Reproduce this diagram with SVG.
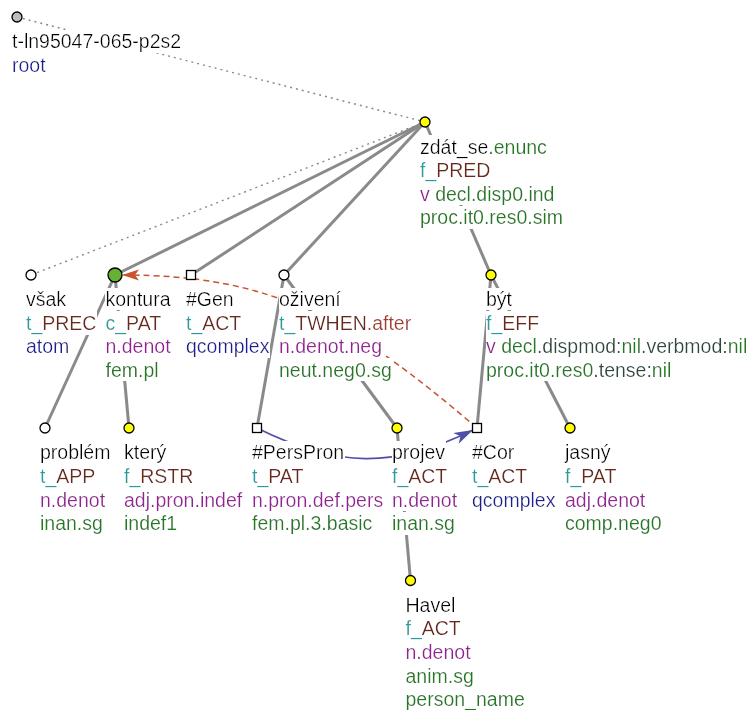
<svg xmlns="http://www.w3.org/2000/svg" width="751" height="710" viewBox="0 0 751 710">
  <defs>
    <!-- white backdrop sized to each text line's box -->
    <filter id="bg" x="0" y="0" width="1" height="1">
      <feFlood flood-color="#ffffff" result="fill"/>
      <feMerge>
        <feMergeNode in="fill"/>
        <feMergeNode in="SourceGraphic"/>
      </feMerge>
    </filter>
    <marker id="ah-coref" markerUnits="userSpaceOnUse" viewBox="-19 -7 20 14" markerWidth="20" markerHeight="14" refX="0" refY="0" orient="auto">
      <path d="M0,0 L-17,-5.5 L-13,0 L-17,5.5 Z" fill="#c8532e"/>
    </marker>
    <marker id="ah-compl" markerUnits="userSpaceOnUse" viewBox="-21 -7 22 14" markerWidth="22" markerHeight="14" refX="0" refY="0" orient="auto">
      <path d="M0,0 L-19,-6 L-14,0 L-19,6 Z" fill="#4f4fa8"/>
    </marker>
    <style>
      text { font-family: "Liberation Sans", Arial, sans-serif; font-size: 19.5px; fill: #000; filter: url(#bg); }
      .edge { stroke: #8a8a8a; stroke-width: 3; fill: none; }
      .dot { stroke: #8a8a8a; stroke-width: 1.4; stroke-dasharray: 2 4; fill: none; }
      .coref { stroke: #c8532e; stroke-width: 1.5; stroke-dasharray: 6 4; fill: none; }
      .compl { stroke: #4f4fa8; stroke-width: 1.6; fill: none; }
      .nd { stroke: #000; stroke-width: 1.3; }
      .y { fill: #ffff00; }
      .w { fill: #ffffff; }
      .pre { fill: #22a0a0; }
      .fn { fill: #702818; }
      .sub { fill: #a8382a; }
      .nt { fill: #1a1a9a; }
      .sem { fill: #9a1a9a; }
      .gr { fill: #1d7d1d; }
      .gn { fill: #2a4a3a; }
    </style>
  </defs>

  <!-- tree edges -->
  <g id="edges">
    <line class="dot" x1="17" y1="17" x2="425" y2="122"/>
    <line class="dot" x1="425" y1="122" x2="31" y2="275"/>
    <line class="edge" x1="425" y1="122" x2="115" y2="275"/>
    <line class="edge" x1="425" y1="122" x2="191" y2="275"/>
    <line class="edge" x1="425" y1="122" x2="284" y2="275"/>
    <line class="edge" x1="425" y1="122" x2="491" y2="275"/>
    <line class="edge" x1="115" y1="275" x2="45" y2="428"/>
    <line class="edge" x1="115" y1="275" x2="129" y2="428"/>
    <line class="edge" x1="284" y1="275" x2="257" y2="428"/>
    <line class="edge" x1="284" y1="275" x2="397" y2="428"/>
    <line class="edge" x1="491" y1="275" x2="477" y2="428"/>
    <line class="edge" x1="491" y1="275" x2="570" y2="428"/>
    <line class="edge" x1="397" y1="428" x2="410.5" y2="580.5"/>
  </g>

  <!-- coreference arrows -->
  <g id="coref">
    <path class="coref" d="M477,428 C347,317 272,275 122,275" marker-end="url(#ah-coref)"/>
    <path class="compl" d="M257,428 C337,468 394,469 473,430" marker-end="url(#ah-compl)"/>
  </g>

  <g id="n-root">
    <circle cx="17" cy="17" r="5" fill="#bdbdbd" class="nd"/>
    <text x="12" y="48.3">t-ln95047-065-p2s2</text>
    <text x="12" y="71.9" class="nt">root</text>
  </g>

  <g id="n-zdat_se">
    <text x="420" y="153.6">zdát_se<tspan class="gr">.enunc</tspan></text>
    <text x="420" y="177.2"><tspan class="pre">f_</tspan><tspan class="fn">PRED</tspan></text>
    <text x="420" y="200.8"><tspan class="sem">v</tspan><tspan class="gr"> decl.disp0.ind</tspan></text>
    <text x="420" y="224.4" class="gr">proc.it0.res0.sim</text>
    <circle cx="425" cy="122" r="5" class="nd y"/>
  </g>

  <g id="n-vsak">
    <text x="26" y="306">však</text>
    <text x="26" y="329.6"><tspan class="pre">t_</tspan><tspan class="fn">PREC</tspan></text>
    <text x="26" y="353.2" class="nt">atom</text>
    <circle cx="31" cy="275" r="5" class="nd w"/>
  </g>

  <g id="n-kontura">
    <text x="105.5" y="306">kontura</text>
    <text x="105.5" y="329.6"><tspan class="pre">c_</tspan><tspan class="fn">PAT</tspan></text>
    <text x="105.5" y="353.2" class="sem">n.denot</text>
    <text x="105.5" y="376.8" class="gr">fem.pl</text>
    <circle cx="115" cy="275" r="7" fill="#66b032" class="nd"/>
  </g>

  <g id="n-gen">
    <text x="186" y="306">#Gen</text>
    <text x="186" y="329.6"><tspan class="pre">t_</tspan><tspan class="fn">ACT</tspan></text>
    <text x="186" y="353.2" class="nt">qcomplex</text>
    <rect x="186.5" y="270.5" width="9" height="9" class="nd w"/>
  </g>

  <g id="n-oziveni">
    <text x="279" y="306">oživení</text>
    <text x="279" y="329.6"><tspan class="pre">t_</tspan><tspan class="fn">TWHEN</tspan><tspan class="sub">.after</tspan></text>
    <text x="279" y="353.2" class="sem">n.denot.neg</text>
    <text x="279" y="376.8" class="gr">neut.neg0.sg</text>
    <circle cx="284" cy="275" r="5" class="nd w"/>
  </g>

  <g id="n-byt">
    <text x="486" y="306">být</text>
    <text x="486" y="329.6"><tspan class="pre">f_</tspan><tspan class="fn">EFF</tspan></text>
    <text x="486" y="353.2"><tspan class="sem">v</tspan> <tspan class="gr">decl</tspan><tspan class="gn">.dispmod:</tspan><tspan class="gr">nil</tspan><tspan class="gn">.verbmod:</tspan><tspan class="gr">nil</tspan></text>
    <text x="486" y="376.8"><tspan class="gr">proc.it0.res0</tspan><tspan class="gn">.tense:</tspan><tspan class="gr">nil</tspan></text>
    <circle cx="491" cy="275" r="5" class="nd y"/>
  </g>

  <g id="n-problem">
    <text x="40" y="459.3">problém</text>
    <text x="40" y="482.9"><tspan class="pre">t_</tspan><tspan class="fn">APP</tspan></text>
    <text x="40" y="506.5" class="sem">n.denot</text>
    <text x="40" y="530.1" class="gr">inan.sg</text>
    <circle cx="45" cy="428" r="5" class="nd w"/>
  </g>

  <g id="n-ktery">
    <text x="124" y="459.3">který</text>
    <text x="124" y="482.9"><tspan class="pre">f_</tspan><tspan class="fn">RSTR</tspan></text>
    <text x="124" y="506.5" class="sem">adj.pron.indef</text>
    <text x="124" y="530.1" class="gr">indef1</text>
    <circle cx="129" cy="428" r="5" class="nd y"/>
  </g>

  <g id="n-perspron">
    <text x="252" y="459.3">#PersPron</text>
    <text x="252" y="482.9"><tspan class="pre">t_</tspan><tspan class="fn">PAT</tspan></text>
    <text x="252" y="506.5" class="sem">n.pron.def.pers</text>
    <text x="252" y="530.1" class="gr">fem.pl.3.basic</text>
    <rect x="252.5" y="423.5" width="9" height="9" class="nd w"/>
  </g>

  <g id="n-projev">
    <text x="392" y="459.3">projev</text>
    <text x="392" y="482.9"><tspan class="pre">f_</tspan><tspan class="fn">ACT</tspan></text>
    <text x="392" y="506.5" class="sem">n.denot</text>
    <text x="392" y="530.1" class="gr">inan.sg</text>
    <circle cx="397" cy="428" r="5" class="nd y"/>
  </g>

  <g id="n-cor">
    <text x="472" y="459.3">#Cor</text>
    <text x="472" y="482.9"><tspan class="pre">t_</tspan><tspan class="fn">ACT</tspan></text>
    <text x="472" y="506.5" class="nt">qcomplex</text>
    <rect x="472.5" y="423.5" width="9" height="9" class="nd w"/>
  </g>

  <g id="n-jasny">
    <text x="565" y="459.3">jasný</text>
    <text x="565" y="482.9"><tspan class="pre">f_</tspan><tspan class="fn">PAT</tspan></text>
    <text x="565" y="506.5" class="sem">adj.denot</text>
    <text x="565" y="530.1" class="gr">comp.neg0</text>
    <circle cx="570" cy="428" r="5" class="nd y"/>
  </g>

  <g id="n-havel">
    <text x="405.5" y="611.7">Havel</text>
    <text x="405.5" y="635.3"><tspan class="pre">f_</tspan><tspan class="fn">ACT</tspan></text>
    <text x="405.5" y="658.9" class="sem">n.denot</text>
    <text x="405.5" y="682.5" class="gr">anim.sg</text>
    <text x="405.5" y="706.1" class="gr">person_name</text>
    <circle cx="410.5" cy="580.5" r="5" class="nd y"/>
  </g>
</svg>
